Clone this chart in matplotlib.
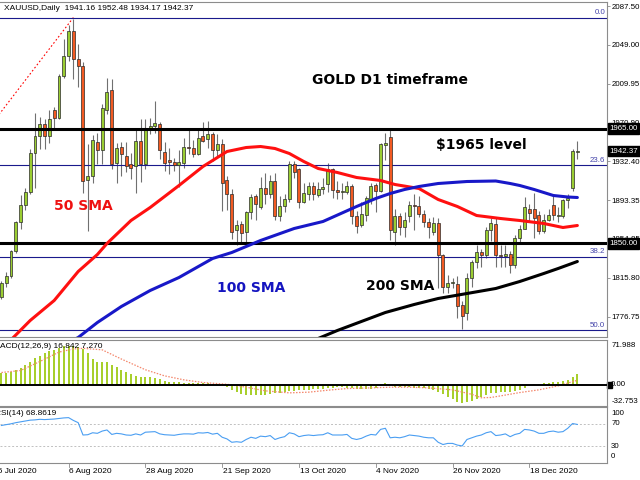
import matplotlib
matplotlib.use('Agg')
import matplotlib.pyplot as plt
import numpy as np
from matplotlib.transforms import blended_transform_factory as blend
from matplotlib.patches import Rectangle

plt.rcParams['font.family'] = ['Liberation Sans', 'DejaVu Sans']

# daily XAUUSD bars, 17 Jul 2020 .. 5 Jan 2021 (one entry per bar)
open_ = [1796, 1810, 1817, 1842, 1871, 1888, 1902, 1941, 1958, 1970,
         1958, 1984, 1976, 2018, 2038, 2063, 2035, 2028, 1914, 1918,
         1952, 1944, 1984, 2004, 1931, 1947, 1938, 1930, 1928, 1953,
         1930, 1965, 1968, 1970, 1942, 1934, 1932, 1929, 1931, 1947,
         1946, 1940, 1958, 1955, 1960, 1944, 1950, 1914, 1900, 1863,
         1869, 1861, 1881, 1897, 1886, 1906, 1899, 1913, 1877, 1887,
         1894, 1930, 1925, 1891, 1900, 1908, 1898, 1905, 1910, 1925,
         1904, 1902, 1902, 1908, 1877, 1868, 1878, 1894, 1909, 1903,
         1949, 1957, 1861, 1877, 1866, 1877, 1888, 1887, 1879, 1871,
         1861, 1870, 1838, 1806, 1810, 1809, 1788, 1780, 1815, 1831,
         1841, 1838, 1863, 1869, 1838, 1837, 1839, 1828, 1855, 1864,
         1884, 1884, 1878, 1862, 1873, 1888, 1877, 1877, 1893, 1906,
         1941.16]
high = [1812, 1821, 1843, 1872, 1898, 1906, 1945, 1981, 1977, 1975,
        1984, 1987, 2020, 2055, 2069, 2075, 2050, 2032, 1950, 1959,
        1961, 1990, 2016, 2015, 1951, 1952, 1952, 1941, 1966, 1975,
        1975, 1976, 1993, 1972, 1952, 1946, 1936, 1944, 1956, 1965,
        1954, 1966, 1972, 1973, 1962, 1960, 1955, 1918, 1905, 1873,
        1872, 1882, 1900, 1900, 1917, 1921, 1919, 1921, 1897, 1899,
        1933, 1933, 1926, 1911, 1912, 1912, 1912, 1916, 1931, 1926,
        1913, 1911, 1913, 1910, 1882, 1891, 1897, 1911, 1911, 1951,
        1961, 1966, 1884, 1880, 1881, 1892, 1900, 1897, 1883, 1875,
        1876, 1875, 1839, 1818, 1815, 1817, 1792, 1820, 1833, 1848,
        1844, 1866, 1875, 1875, 1848, 1848, 1842, 1858, 1868, 1896,
        1889, 1901, 1882, 1879, 1884, 1900, 1886, 1894, 1900, 1945,
        1952.48]
low = [1794, 1806, 1815, 1840, 1864, 1883, 1900, 1906, 1945, 1945,
       1951, 1966, 1975, 2016, 2033, 2015, 2007, 1901, 1862, 1911,
       1930, 1930, 1980, 1925, 1911, 1918, 1922, 1915, 1901, 1912,
       1925, 1960, 1961, 1935, 1923, 1920, 1923, 1907, 1926, 1940,
       1937, 1939, 1952, 1946, 1933, 1938, 1882, 1883, 1854, 1848,
       1849, 1850, 1874, 1873, 1884, 1889, 1895, 1873, 1872, 1881,
       1891, 1916, 1885, 1890, 1893, 1893, 1896, 1900, 1902, 1895,
       1894, 1894, 1899, 1869, 1860, 1866, 1872, 1889, 1881, 1902,
       1934, 1853, 1848, 1858, 1856, 1871, 1863, 1876, 1866, 1855,
       1858, 1805, 1800, 1800, 1805, 1775, 1764, 1773, 1806, 1825,
       1826, 1835, 1852, 1826, 1826, 1826, 1820, 1825, 1850, 1864,
       1872, 1855, 1859, 1860, 1872, 1873, 1871, 1875, 1885, 1903,
       1934.17]
close = [1810, 1817, 1842, 1871, 1888, 1902, 1941, 1958, 1970, 1958,
         1975, 1976, 2018, 2038, 2063, 2035, 2028, 1913, 1918, 1954,
         1944, 1986, 2002, 1930, 1946, 1940, 1928, 1926, 1953, 1930,
         1965, 1968, 1971, 1944, 1931, 1932, 1929, 1932, 1947, 1946,
         1940, 1956, 1953, 1960, 1944, 1950, 1911, 1900, 1861, 1868,
         1860, 1881, 1896, 1889, 1906, 1899, 1913, 1877, 1887, 1894,
         1930, 1922, 1891, 1901, 1908, 1899, 1905, 1907, 1925, 1904,
         1902, 1903, 1908, 1877, 1867, 1879, 1895, 1908, 1903, 1950,
         1951, 1863, 1877, 1866, 1873, 1888, 1887, 1879, 1871, 1866,
         1870, 1838, 1806, 1810, 1811, 1787, 1777, 1815, 1831, 1841,
         1838, 1863, 1870, 1838, 1837, 1839, 1828, 1855, 1864, 1886,
         1880, 1875, 1862, 1873, 1878, 1878, 1878, 1893, 1895, 1943,
         1942.37]

# moving averages (bar index, price)
sma50_bar = [0, 6, 11, 16, 20, 22, 27, 31, 37, 42, 47, 51, 54, 57, 60, 63,
             66, 70, 74, 79, 82, 87, 91, 95, 99, 104, 108, 113, 117, 120]
sma50_val = [1744, 1773, 1793, 1822, 1839, 1850, 1873, 1886, 1908, 1927,
             1942, 1946, 1947, 1945, 1940, 1932, 1925, 1921, 1916, 1913,
             1909, 1905, 1894, 1887, 1878, 1875, 1873, 1870, 1866, 1868]
sma100_bar = [14, 16, 20, 25, 31, 37, 44, 48, 54, 61, 67, 74, 78, 81, 84,
              87, 91, 97, 103, 106, 108, 111, 115, 118, 120]
sma100_val = [1751, 1756, 1771, 1787, 1803, 1816, 1835, 1841, 1853, 1865,
              1872, 1887, 1895, 1900, 1904, 1907, 1910, 1912, 1912.5, 1910,
              1908, 1904, 1898, 1896.5, 1896]
sma200_bar = [62, 66, 70, 75, 80, 86, 91, 97, 103, 108, 113, 116, 120]
sma200_val = [1750, 1755, 1763, 1772, 1781, 1789, 1795, 1800, 1805, 1812,
              1820, 1825, 1832]

# MACD histogram (one per bar) and signal line
macd = [18.5, 19, 21, 24, 27, 31, 35.5, 43, 46.5, 50,
        53, 56, 58.7, 61.4, 62.4, 62, 59.8, 57, 50, 41,
        37, 36.5, 36.5, 31, 28, 24, 20.6, 17.5, 14.8, 13.2,
        13.2, 12.7, 11.6, 9, 6.3, 5.3, 5.3, 4.2, 3.7, 3.2,
        2.6, 2.6, 2.6, 2.6, 2.1, 1.6, 1, -3.7, -7.9, -11.6,
        -14.3, -15.3, -15.9, -15.9, -15.9, -15.3, -14.8, -13.2, -12.2, -11,
        -10, -9, -7.9, -7.9, -7.4, -6.9, -6.3, -5.8, -4.8, -4.2,
        -3.7, -3.7, -4.2, -4.8, -5.8, -6.3, -6.3, -5.8, -4.8, -1.6,
        2.6, -1, -2.6, -3.2, -3.7, -3.7, -4.2, -4.8, -5.3, -6.3,
        -7.9, -10.6, -14.8, -18.5, -22.8, -26.5, -28.6, -27.5, -25, -22.5,
        -19.5, -16, -13.5, -12.5, -12, -11.5, -11, -10, -7.5, -4.5,
        -2, 1, 1.6, 2.6, 3.7, 4.2, 5.3, 6.3, 7.9, 12.2,
        16.842]
signal_bar = [0, 4, 8, 12, 15, 17, 21, 25, 30, 34, 38, 42, 47, 51, 55, 60,
              64, 68, 72, 77, 81, 85, 89, 94, 98, 100, 102, 104, 108, 112,
              116, 120]
signal_val = [19.6, 22.8, 37, 52, 57, 58, 55.6, 41, 24, 14.3, 8, 3.7, 1,
              -3.7, -9.5, -12.7, -11.6, -8.5, -5.8, -4.8, -3.7, -3.7, -4.8,
              -7.9, -15, -20.5, -20, -17.5, -12.2, -7.9, -1.6, 7.27]

rsi = [67, 68.5, 70, 72, 73.5, 75, 76.5, 77, 78, 77.5,
       78, 78.5, 79.5, 80.5, 81, 76, 72, 50, 50.5, 54,
       53, 57, 59, 51, 53, 52, 50, 49.5, 52, 50,
       55, 55.5, 56, 52, 50.5, 50, 49.5, 51, 52, 52,
       51.5, 54, 53.5, 54.5, 51.5, 53, 46, 43, 37, 38,
       37, 42, 46, 44, 48, 47, 49, 42, 45, 47,
       54, 52, 47, 49, 50, 49, 50, 50.5, 54, 50,
       50, 50, 51, 44, 42, 44, 48, 51, 50, 60,
       62, 45, 46, 45, 47, 50, 49, 48, 46, 45,
       45, 37, 33, 35, 35, 32, 30.5, 42, 45, 48,
       50, 54, 56, 49, 50, 52, 47, 51, 53, 60,
       59, 57, 53, 53, 56, 57, 55, 56, 62, 70.5,
       68.8619]

price_ticks = [2087.50, 2049.00, 2009.95, 1970.90, 1932.40, 1893.35,
               1854.85, 1815.80, 1776.75]
key_levels = [1965.0, 1850.0]
fib_high, fib_low = 2076.0, 1450.0
fib_ratios = [0.0, 23.6, 38.2, 50.0]
date_bar = [-2, 14, 30, 46, 62, 78, 94, 110]
date_text = ['16 Jul 2020', '6 Aug 2020', '28 Aug 2020', '21 Sep 2020',
             '13 Oct 2020', '4 Nov 2020', '26 Nov 2020', '18 Dec 2020']

BULL = '#9acd32'
BEAR = '#f25a22'
GRAY = '#8c8c8c'
SMALL = 5.7


def main():
    o = np.array(open_)
    h = np.array(high)
    l = np.array(low)
    c = np.array(close)
    bars = np.arange(len(c))
    xlim = (-0.29, 126.17)

    fig = plt.figure(figsize=(6.4, 4.8), dpi=100)
    ax = fig.add_axes([0, 0.2969, 0.9484, 0.6989])
    axm = fig.add_axes([0, 0.1552, 0.9484, 0.1375])
    axr = fig.add_axes([0, 0.0354, 0.9484, 0.1167])

    for a in (ax, axm, axr):
        a.set_xlim(*xlim)
        a.set_xticks([])
        a.spines['left'].set_visible(False)
        for s in ('top', 'right', 'bottom'):
            a.spines[s].set_color(GRAY)
            a.spines[s].set_linewidth(0.8)
        a.yaxis.tick_right()
        a.tick_params(axis='y', direction='out', length=2.5, width=0.6,
                      pad=0.8, labelsize=SMALL, color=GRAY)

    # ---- price panel
    ax.set_ylim(1756, 2091.5)
    ax.set_yticks(price_ticks)
    ax.set_yticklabels(['%.2f' % t for t in price_ticks])

    ax.vlines(bars, l, h, color='#707070', lw=0.8, zorder=2)
    bottom = np.minimum(o, c)
    height = np.maximum(np.abs(c - o), 0.9)
    up = c >= o
    ax.bar(bars[up], height[up], bottom=bottom[up], width=0.62, color=BULL,
           edgecolor='#2a2a2a', lw=0.5, zorder=3)
    ax.bar(bars[~up], height[~up], bottom=bottom[~up], width=0.62, color=BEAR,
           edgecolor='#2a2a2a', lw=0.5, zorder=3)

    # fibonacci retracement
    rng = fib_high - fib_low
    ax.plot([15 - 100, 15], [fib_low, fib_high], color='red', lw=0.8,
            ls=(0, (1.5, 2)), zorder=2)
    tr = blend(ax.transAxes, ax.transData)
    for r in fib_ratios:
        lvl = fib_high - rng * r / 100
        ax.axhline(lvl, color='#1a1a8c', lw=0.8, zorder=2)
        ax.text(0.997, lvl + 1.5, '%.1f' % r, transform=tr, ha='right',
                va='bottom', fontsize=SMALL, color='#4444aa')

    for lvl in key_levels:
        ax.axhline(lvl, color='black', lw=2.2, zorder=4)

    line_kw = dict(lw=2.2, zorder=5, solid_joinstyle='round',
                   solid_capstyle='round')
    ax.plot(sma50_bar, sma50_val, color='#ff1010', **line_kw)
    ax.plot(sma100_bar, sma100_val, color='#1818c8', **line_kw)
    ax.plot(sma200_bar, sma200_val, color='black', **line_kw)

    for val, txt in [(1965.0, '1965.00'), (close[-1], '%.2f' % close[-1]),
                     (1850.0, '1850.00')]:
        ax.text(1.004, val, txt, transform=tr, ha='left', va='center',
                fontsize=SMALL, color='white', clip_on=False, zorder=10,
                bbox=dict(facecolor='black', edgecolor='black', pad=1.2))

    fig.text(4 / 640, 1 - 8.5 / 480,
             'XAUUSD,Daily  %.2f %.2f %.2f %.2f' % (open_[-1], high[-1], low[-1], close[-1]),
             fontsize=6, va='center', ha='left')

    big = dict(family='DejaVu Sans', weight='bold', fontsize=10,
               ha='center', va='center')
    fig.text(390 / 640, 1 - 80 / 480, 'GOLD D1 timeframe', color='black', **big)
    fig.text(481 / 640, 1 - 145 / 480, '$1965 level', color='black', **big)
    fig.text(83 / 640, 1 - 206 / 480, '50 SMA', color='#ee1111', **big)
    fig.text(251 / 640, 1 - 288 / 480, '100 SMA', color='#1515c0', **big)
    fig.text(400 / 640, 1 - 286 / 480, '200 SMA', color='black', **big)

    # ---- MACD panel
    axm.set_ylim(-32.753, 71.988)
    axm.set_yticks([])
    axm.bar(bars, macd, width=0.42, color='#a8cf2c', zorder=2)
    axm.plot(signal_bar, signal_val, color='#f4876c', lw=0.9,
             ls=(0, (1.2, 1.2)), zorder=3)
    axm.axhline(0, color='black', lw=1.4, zorder=4)
    trm = blend(axm.transAxes, axm.transData)
    axm.text(-0.012, 0.9, 'MACD(12,26,9) %.3f %.3f' % (macd[-1], signal_val[-1]),
             transform=axm.transAxes, fontsize=6, va='center', ha='left')
    axm.text(1.007, 0.91, '71.988', transform=axm.transAxes, fontsize=SMALL,
             va='center', ha='left', clip_on=False)
    axm.text(1.007, 0.06, '-32.753', transform=axm.transAxes, fontsize=SMALL,
             va='center', ha='left', clip_on=False)
    axm.text(1.007, 0, '0.00', transform=trm, fontsize=SMALL, va='center',
             ha='left', clip_on=False)
    axm.add_patch(Rectangle((1.0, -5), 0.008, 10, transform=trm,
                            color='black', clip_on=False))

    # ---- RSI panel
    axr.set_ylim(0, 100)
    axr.set_yticks([])
    axr.axhline(70, color='#c0c0c0', lw=0.7, ls=(0, (2, 2)))
    axr.axhline(30, color='#c0c0c0', lw=0.7, ls=(0, (2, 2)))
    axr.plot(bars, rsi, color='#4a9ef2', lw=0.8, zorder=3)
    axr.text(-0.008, 0.88, 'RSI(14) %.4f' % rsi[-1], transform=axr.transAxes,
             fontsize=6, va='center', ha='left')
    trr = blend(axr.transAxes, axr.transData)
    for val, txt in [(89, '100'), (70, '70'), (30, '30'), (11, '0')]:
        axr.text(1.007, val, txt, transform=trr, fontsize=SMALL, va='center',
                 ha='left', clip_on=False)

    # date labels under the RSI panel
    trd = blend(axr.transData, axr.transAxes)
    for b, txt in zip(date_bar, date_text):
        axr.plot([b, b], [0, -0.07], transform=trd, color=GRAY, lw=0.6,
                 clip_on=False)
        axr.text(b + 0.15, -0.085, txt, transform=trd, fontsize=6,
                 va='top', ha='left', clip_on=False)

    fig.savefig('out.png', dpi=100)


if __name__ == '__main__':
    main()
